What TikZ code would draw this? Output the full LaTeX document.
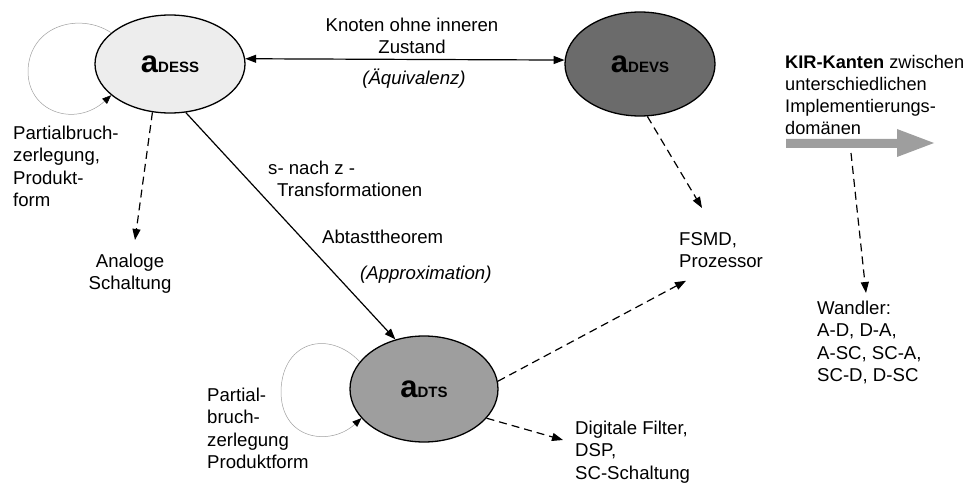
\documentclass[tikz,border=0pt]{standalone}
\usepackage{fontspec}
\setmainfont{Liberation Sans}
\usetikzlibrary{arrows.meta,calc,shapes.geometric}

% label inside an implementation-domain ellipse: large bold "a" followed by small capitals
\newcommand\domainlabel[1]{{\fontsize{31}{31}\selectfont\bfseries a}{\fontsize{15}{15}\selectfont\bfseries #1}}

\begin{document}
\begin{tikzpicture}[x=1pt,y=-1pt,
  every node/.style={font=\fontsize{18.6}{22.2}\selectfont},
  txt/.style={inner sep=0pt, align=left, anchor=north west},
  implbox/.style={ellipse, draw, line width=1.3pt, inner sep=0pt,
                 minimum width=150pt, minimum height=98pt},
  solidconn/.style={line width=1.2pt, -{Triangle[length=11pt,width=8pt]}},
  bothconn/.style={line width=1.2pt, {Triangle[length=11pt,width=8pt]}-{Triangle[length=11pt,width=8pt]}},
  dashconn/.style={line width=1.2pt, dash pattern=on 8pt off 5pt,
                   -{Triangle[length=11pt,width=8pt]}},
  selfloop/.style={gray!75, line width=0.5pt,
                   -{Triangle[length=9pt,width=7pt,color=black]}},
]
\useasboundingbox (0,0) rectangle (964,484);

% the three implementation domains
\node[implbox, fill=black!7] (dess) at (170,64) {\domainlabel{DESS}};
\node[implbox, fill=black!58, minimum height=104pt] (devs) at (640,64) {\domainlabel{DEVS}};
\node[implbox, fill=black!38, minimum width=148pt, minimum height=106pt] (dts) at (424,389) {\domainlabel{DTS}};

% texts
\node[txt, align=center, anchor=north] (knoten) at (412,18) {Knoten ohne inneren\\Zustand};
\node[txt, anchor=base] (aequiv) at (414,85) {\itshape (Äquivalenz)};
\node[txt] (pbzA) at (13,126) {Partialbruch-\\zerlegung,\\Produkt-\\form};
\node[txt, align=center, anchor=north] (analog) at (130,254) {Analoge\\Schaltung};
\node[txt] (snz) at (268,161) {s- nach z -\\\hspace*{9pt}Transformationen};
\node[txt, anchor=base west] (abtast) at (322,243) {Abtasttheorem};
\node[txt, anchor=base west] (approx) at (360,279) {\itshape (Approximation)};
\node[txt] (pbzB) at (207,388) {Partial-\\bruch-\\zerlegung\\Produktform};
\node[txt] (digital) at (575,421) {Digitale Filter,\\DSP,\\SC-Schaltung};
\node[txt] (fsmd) at (679,232) {FSMD,\\Prozessor};
\node[txt, font=\fontsize{18.2}{22.2}\selectfont] (kir) at (785,55) {\textbf{KIR-Kanten} zwischen\\unterschiedlichen\\Implementierungs-\\domänen};
\node[txt] (wandler) at (817,301) {Wandler:\\A-D, D-A,\\A-SC, SC-A,\\SC-D, D-SC};

% broad grey arrow standing for the KIR edges
\fill[black!38] (786,139) -- (897,139) -- (897,129) -- (934,143)
  -- (897,157) -- (897,148) -- (786,148) -- cycle;
\coordinate (kirfoot) at (851,153);

% connectors between domains
\draw[bothconn] (dess.4) -- (devs.177);
\draw[solidconn] (dess.-72) -- (dts.120);

% connectors to the realisations
\draw[dashconn] (dess.-110) -- ($(analog.north)+(5,-14)$);
\draw[dashconn] (devs.-82) -- ($(fsmd.north west)+(23,-24)$);
\draw[dashconn] (dts.6) -- ($(fsmd.south west)+(7,13)$);
\draw[dashconn] (dts.-25) -- ($(digital.north west)+(-12,19)$);
\draw[dashconn] (kirfoot) -- ($(wandler.north west)+(49,-8)$);

% self loops
\draw[selfloop] (dess.152) .. controls (80,12) and (30,25) .. (28,70)
  .. controls (27,112) and (75,128) .. (dess.208);
\draw[selfloop] (dts.157) .. controls (330,330) and (283,340) .. (281,390)
  .. controls (280,440) and (330,447) .. (dts.205);
\end{tikzpicture}
\end{document}
